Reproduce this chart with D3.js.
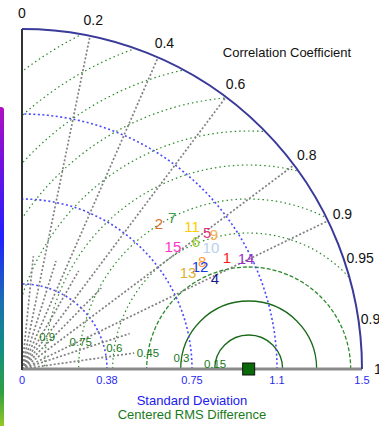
<!DOCTYPE html>
<html><head><meta charset="utf-8">
<script src="https://cdn.jsdelivr.net/npm/d3@7"></script>
<style>html,body{margin:0;padding:0;background:#fff;overflow:hidden}</style>
</head><body>
<svg id="c" width="379" height="426"></svg>
<script>
// ---- data ----
const modelLabels = ["1","2","4","5","6","7","8","9","10","11","12","13","14","15"];
const modelStd    = [1.028,0.880,0.939,1.013,0.950,0.939,0.924,1.033,0.990,0.977,0.905,0.846,1.101,0.856];
const modelCorr   = [0.879,0.687,0.906,0.806,0.808,0.705,0.860,0.820,0.842,0.768,0.868,0.866,0.898,0.778];
const modelColors = ["#ff1a1a","#e0702a","#1a1a8c","#e0307a","#99cc33","#3a9a4a","#ff9a30","#f0b050","#b8d0ee","#ffcc00","#1a3ae0","#e0b030","#9a30c8","#ff33cc"];
const refStd = 1.0;
const stdTicks = [0,0.375,0.75,1.125,1.5];
const stdTickLabels = ["0","0.38","0.75","1.1","1.5"];
const corrTicks = [0,0.2,0.4,0.6,0.8,0.9,0.95,0.99,1];
const corrTickLabels = ["0","0.2","0.4","0.6","0.8","0.9","0.95","0.99","1"];
const corrRays = [0.2,0.4,0.6,0.8,0.9];
const corrMinorRays = [0.1,0.3,0.5,0.7,0.95,0.99];
const rmsLevels = [0.15,0.3,0.45,0.6,0.75,0.9,1.05,1.2,1.35,1.5,1.65,1.8];
const rmsLabelLevels = [0.15,0.3,0.45,0.6,0.75,0.9];

const svg = d3.select("#c");
const ox = 22, oy = 369, R = 340;
const r = d3.scaleLinear().domain([0,1.5]).range([0,R]);
const g = svg.append("g").attr("transform",`translate(${ox},${oy})`);
const FONT = "Liberation Sans, Arial, sans-serif";

// colorbar fragment at left edge
const defs = svg.append("defs");
const lg = defs.append("linearGradient").attr("id","cb").attr("x1",0).attr("x2",0).attr("y1",0).attr("y2",1);
[["0","#b010c0"],["0.18","#7010e0"],["0.4","#2020ff"],["0.6","#1a70b0"],["0.75","#129080"],["0.88","#30a040"],["1","#a8d020"]]
  .forEach(s=>lg.append("stop").attr("offset",s[0]).attr("stop-color",s[1]));
svg.append("rect").attr("x",-10).attr("y",107).attr("width",14).attr("height",325).attr("rx",3).attr("fill","url(#cb)");

defs.append("clipPath").attr("id","quad").append("path")
  .attr("d",`M0,0 L${R},0 A${R},${R} 0 0,0 0,${-R} Z`);
const inner = g.append("g").attr("clip-path","url(#quad)");

// RMS circles
const refX = r(refStd);
rmsLevels.forEach((lv,i)=>{
  const k = i+1;
  inner.append("circle").attr("cx",refX).attr("cy",0).attr("r",r(lv))
    .attr("fill","none").attr("stroke", k<=2 ? "#1a6a1a" : "#2a8a2a")
    .attr("stroke-width", k<=3 ? 1.3 : 1.2)
    .attr("stroke-dasharray", k<=2 ? null : (k===3 ? "4,2" : "1.5,3"));
});

// std arcs (blue dotted)
stdTicks.slice(1,-1).forEach(s=>{
  inner.append("path").attr("d",`M${r(s)},0 A${r(s)},${r(s)} 0 0,0 0,${-r(s)}`)
    .attr("fill","none").attr("stroke","#4a4aff").attr("stroke-width",1.6).attr("stroke-dasharray","2,2.5");
});

// correlation rays
corrRays.forEach(c=>{
  const a = Math.acos(c);
  inner.append("line").attr("x1",0).attr("y1",0)
    .attr("x2",R*Math.cos(a)).attr("y2",-R*Math.sin(a))
    .attr("stroke","#808080").attr("stroke-width",1.7).attr("stroke-dasharray","2,2");
});
corrMinorRays.forEach(c=>{
  const a = Math.acos(c), rr = r(0.5);
  inner.append("line").attr("x1",0).attr("y1",0)
    .attr("x2",rr*Math.cos(a)).attr("y2",-rr*Math.sin(a))
    .attr("stroke","#808080").attr("stroke-width",1.7).attr("stroke-dasharray","2,2");
});

// axes
g.append("line").attr("x1",0).attr("y1",0).attr("x2",R).attr("y2",0).attr("stroke","#8a8a8a").attr("stroke-width",3);
g.append("line").attr("x1",0).attr("y1",1).attr("x2",0).attr("y2",-R).attr("stroke","#333").attr("stroke-width",2);
g.append("path").attr("d",`M${R},0 A${R},${R} 0 0,0 0,${-R}`)
  .attr("fill","none").attr("stroke","#3a3a9a").attr("stroke-width",2);

// RMS labels
const la = Math.PI*9/180;
rmsLabelLevels.forEach(lv=>{
  g.append("text").attr("x",refX - r(lv)*Math.cos(la)).attr("y",-r(lv)*Math.sin(la)+4)
    .attr("text-anchor","middle").attr("font-family",FONT)
    .attr("font-size",11.5).attr("fill","#1a7a1a").text(String(lv));
});

// std tick labels
stdTicks.forEach((s,i)=>{
  g.append("text").attr("x",r(s)).attr("y",15).attr("text-anchor","middle")
    .attr("font-family",FONT).attr("font-size",11)
    .attr("fill","#2a2aee").text(stdTickLabels[i]);
});

// corr tick labels
corrTicks.forEach((c,i)=>{
  const a = Math.acos(c), rr = 356;
  g.append("text").attr("x",rr*Math.cos(a)).attr("y",-rr*Math.sin(a)+5).attr("text-anchor","middle")
    .attr("font-family",FONT).attr("font-size",14)
    .attr("fill","#111").text(corrTickLabels[i]);
});

svg.append("text").attr("x",287).attr("y",57).attr("text-anchor","middle")
  .attr("font-family",FONT).attr("font-size",13).attr("fill","#111")
  .text("Correlation Coefficient");
svg.append("text").attr("x",192).attr("y",405).attr("text-anchor","middle")
  .attr("font-family",FONT).attr("font-size",13).attr("fill","#2020ee")
  .text("Standard Deviation");
svg.append("text").attr("x",192).attr("y",419).attr("text-anchor","middle")
  .attr("font-family",FONT).attr("font-size",13).attr("fill","#1a7a1a")
  .text("Centered RMS Difference");

// reference point
g.append("rect").attr("x",refX-6).attr("y",-6).attr("width",12).attr("height",12)
  .attr("fill","#0a6a0a").attr("stroke","#111").attr("stroke-width",1);

// model labels
modelLabels.forEach((lab,i)=>{
  const a = Math.acos(modelCorr[i]);
  g.append("text").attr("x",r(modelStd[i])*Math.cos(a)).attr("y",-r(modelStd[i])*Math.sin(a)+5)
    .attr("text-anchor","middle").attr("font-family",FONT)
    .attr("font-size",15).attr("fill",modelColors[i]).text(lab);
});
</script>
</body></html>
